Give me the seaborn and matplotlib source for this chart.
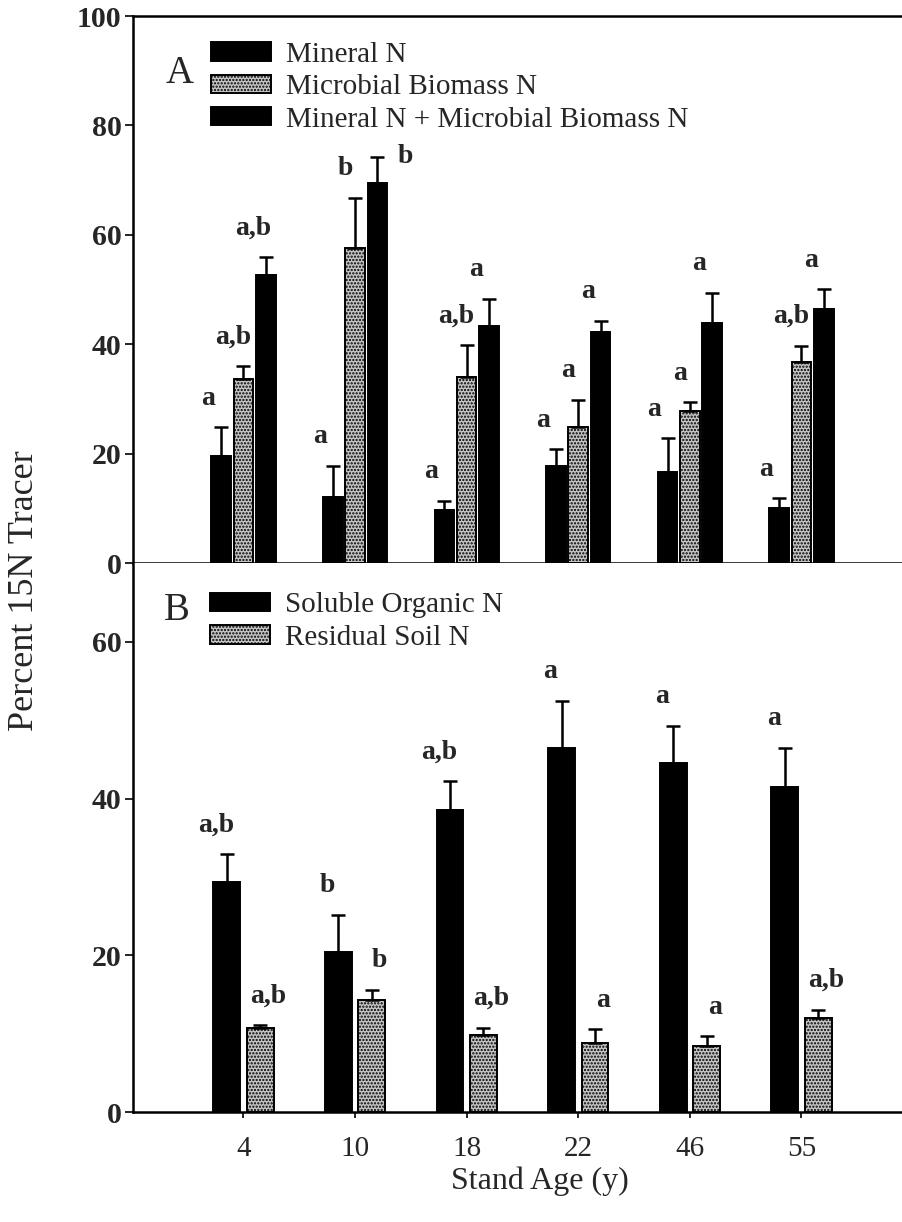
import numpy as np
import pandas as pd
import matplotlib
matplotlib.use("Agg")
import matplotlib.pyplot as plt
import seaborn as sns
from matplotlib.patches import Patch

# Stand ages (years)
ages = ["4", "10", "18", "22", "46", "55"]

# Panel A: percent of 15N tracer recovered (mean, upper SE)
mineral_n = [19.7, 12.2, 9.7, 17.8, 16.6, 10.2]
mineral_n_se = [5.2, 5.6, 1.7, 3.0, 6.3, 1.7]
microbial_n = [33.6, 57.6, 34.0, 24.9, 27.9, 36.7]
microbial_n_se = [2.5, 9.2, 5.9, 5.0, 1.5, 3.1]
combined_n = [52.7, 69.5, 43.4, 42.2, 44.0, 46.4]
combined_n_se = [3.2, 4.8, 4.9, 2.1, 5.4, 3.7]

mineral_letters = ["a", "a", "a", "a", "a", "a"]
microbial_letters = ["a,b", "b", "a,b", "a", "a", "a,b"]
combined_letters = ["a,b", "b", "a", "a", "a", "a"]

# Panel B
soluble_org_n = [29.4, 20.5, 38.5, 46.5, 44.6, 41.5]
soluble_org_n_se = [3.5, 4.7, 3.7, 6.0, 4.7, 5.0]
residual_n = [10.7, 14.3, 9.9, 8.8, 8.5, 12.0]
residual_n_se = [0.4, 1.3, 0.9, 1.8, 1.2, 1.1]

soluble_letters = ["a,b", "b", "a,b", "a", "a", "a"]
residual_letters = ["a,b", "b", "a,b", "a", "a", "a,b"]

pools_a = ["Mineral N", "Microbial Biomass N", "Mineral N + Microbial Biomass N"]
pools_b = ["Soluble Organic N", "Residual Soil N"]

sns.set_style("white")
plt.rcParams["font.family"] = ["Liberation Serif", "DejaVu Serif"]
plt.rcParams["hatch.linewidth"] = 1.1

DARK = "#000000"
STIPPLE = "#c6c6c6"
HATCH = "....."


def long_frame(pools, values, errs, letters):
    rows = []
    for p, v, e, l in zip(pools, values, errs, letters):
        for age, vi, ei, li in zip(ages, v, e, l):
            rows.append({"age": age, "pool": p, "value": vi, "se": ei, "letter": li})
    return pd.DataFrame(rows)


df_a = long_frame(pools_a,
                  [mineral_n, microbial_n, combined_n],
                  [mineral_n_se, microbial_n_se, combined_n_se],
                  [mineral_letters, microbial_letters, combined_letters])
df_b = long_frame(pools_b,
                  [soluble_org_n, residual_n],
                  [soluble_org_n_se, residual_n_se],
                  [soluble_letters, residual_letters])

fig = plt.figure(figsize=(9.03, 12.22), dpi=100)
ax_a = fig.add_axes([0.1473, 0.5390, 0.8527, 0.4479])
ax_b = fig.add_axes([0.1473, 0.0898, 0.8527, 0.4492])

pal_a = {pools_a[0]: DARK, pools_a[1]: STIPPLE, pools_a[2]: DARK}
pal_b = {pools_b[0]: DARK, pools_b[1]: STIPPLE}

sns.barplot(data=df_a, x="age", y="value", hue="pool", order=ages,
            hue_order=pools_a, palette=pal_a, width=0.6, gap=0.12,
            errorbar=None, edgecolor="black", linewidth=1.4,
            legend=False, saturation=1, ax=ax_a)
sns.barplot(data=df_b, x="age", y="value", hue="pool", order=ages,
            hue_order=pools_b, palette=pal_b, width=0.6, gap=0.2,
            errorbar=None, edgecolor="black", linewidth=1.4,
            legend=False, saturation=1, ax=ax_b)


def decorate(ax, df, pools, stippled, letter_dx, dy_px, right_side=()):
    for container, pool in zip(ax.containers, pools):
        sub = df[df["pool"] == pool].set_index("age").loc[ages]
        xs, ys = [], []
        for bar in container:
            xs.append(bar.get_x() + bar.get_width() / 2)
            ys.append(bar.get_height())
            if pool in stippled:
                bar.set_hatch(HATCH)
        xs = np.array(xs)
        ys = np.array(ys)
        se = sub["se"].to_numpy()
        ax.errorbar(xs, ys, yerr=[np.zeros_like(se), se], fmt="none",
                    ecolor="black", elinewidth=1.8, capsize=5.2,
                    capthick=1.8, zorder=4)
        for age, x, y, e, lab in zip(ages, xs, ys, se, sub["letter"]):
            if (age, pool) in right_side:
                off = (28, 0)
            else:
                off = (letter_dx[pool], dy_px)
            ax.annotate(lab, xy=(x, y + e), xytext=off,
                        textcoords="offset pixels", ha="center",
                        va="center", fontsize=20, fontweight="bold")


decorate(ax_a, df_a, pools_a, {pools_a[1]},
         {pools_a[0]: -13, pools_a[1]: -10, pools_a[2]: -13}, 29,
         right_side={("10", pools_a[2])})
decorate(ax_b, df_b, pools_b, {pools_b[1]},
         {pools_b[0]: -11, pools_b[1]: 8}, 29)

for ax in (ax_a, ax_b):
    ax.set_xlim(-0.99, 5.91)
    ax.set_xlabel("")
    ax.set_ylabel("")
    for s in ax.spines.values():
        s.set_linewidth(1.8)
        s.set_color("black")
    ax.spines["right"].set_visible(False)
    ax.tick_params(axis="y", direction="out", length=5.8, width=1.4,
                   pad=2.5, labelsize=21.5, left=True)

ax_a.set_ylim(0, 100)
ax_a.set_yticks(np.arange(0, 101, 20))
ax_a.tick_params(axis="x", bottom=False, labelbottom=False)
for t in ax_a.get_yticklabels():
    t.set_fontweight("bold")

ax_b.set_ylim(0, 70)
ax_b.set_yticks(np.arange(0, 61, 20))
ax_b.spines["top"].set_visible(False)
ax_b.set_xticks(range(len(ages)))
ax_b.set_xticklabels(ages)
ax_b.tick_params(axis="x", direction="out", length=4.3, width=1.4,
                 pad=13, labelsize=21, bottom=True)
for t in ax_b.get_yticklabels():
    t.set_fontweight("bold")


def legend_handles(pools, stippled):
    hs = []
    for p in pools:
        if p in stippled:
            hs.append(Patch(facecolor=STIPPLE, edgecolor="black", hatch=HATCH, linewidth=1.4))
        else:
            hs.append(Patch(facecolor=DARK, edgecolor="black", linewidth=1.4))
    return hs


leg_kw = dict(loc="upper left", frameon=False, fontsize=21, handlelength=2.06,
              handleheight=0.58, labelspacing=0.22, handletextpad=0.52,
              borderpad=0, borderaxespad=0)
ax_a.legend(legend_handles(pools_a, {pools_a[1]}), pools_a,
            bbox_to_anchor=(0.101, 0.953), **leg_kw)
ax_b.legend(legend_handles(pools_b, {pools_b[1]}), pools_b,
            bbox_to_anchor=(0.100, 0.947), **leg_kw)

ax_a.text(0.061, 0.895, "A", transform=ax_a.transAxes, fontsize=28,
          ha="center", va="center")
ax_b.text(0.057, 0.915, "B", transform=ax_b.transAxes, fontsize=28,
          ha="center", va="center")

fig.text(540 / 903, 1 - 1181 / 1222, "Stand Age (y)", fontsize=23,
         ha="center", va="center")
fig.text(25 / 903, 1 - 591 / 1222, "Percent 15N Tracer", fontsize=26,
         ha="center", va="center", rotation=90)

fig.savefig("out.png", dpi=100)
